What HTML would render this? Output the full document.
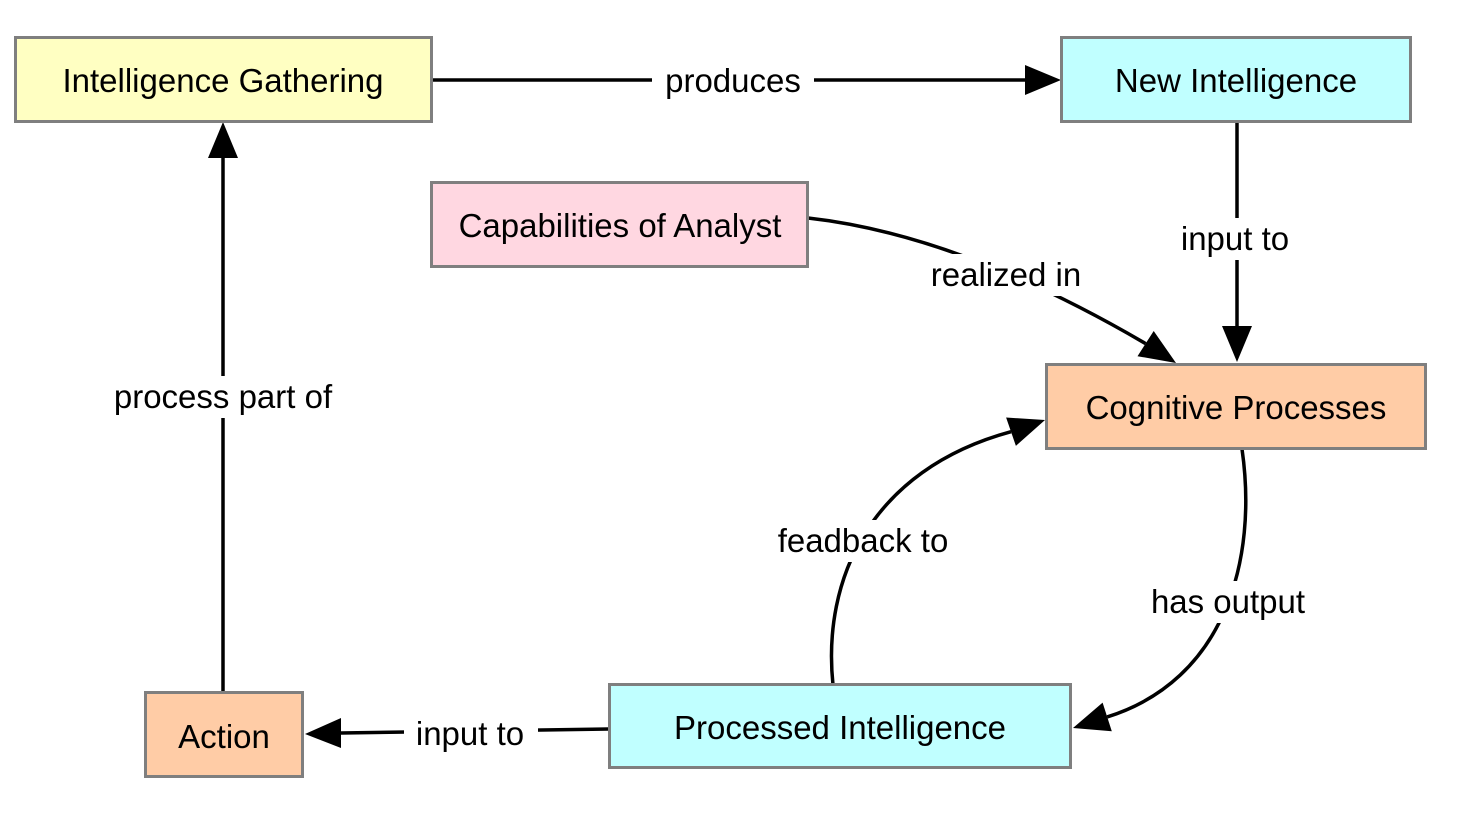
<!DOCTYPE html>
<html><head><meta charset="utf-8"><style>
html,body{margin:0;padding:0;background:#fff;}
text{font-family:"Liberation Sans",Arial,sans-serif;font-size:33px;fill:#000;}
</style></head><body>
<svg width="1462" height="820" viewBox="0 0 1462 820" xmlns="http://www.w3.org/2000/svg">
<g stroke="#000" stroke-width="3.5" fill="none">
<line x1="432" y1="80" x2="1026" y2="80"/>
<line x1="1237" y1="122" x2="1237" y2="327"/>
<path d="M808,218 Q960,235 1145.6,343.6"/>
<line x1="223" y1="692" x2="223" y2="158"/>
<line x1="609" y1="729" x2="341" y2="733"/>
<path d="M833,685 C822,580 870,470 1011,431.7"/>
<path d="M1242,449 C1258,560 1225,680 1107.2,716.9"/>
</g>
<g fill="#000">
<polygon points="1061,80 1025,65 1025,95"/>
<polygon points="1237,362 1222,326 1252,326"/>
<polygon points="1176,363 1137.5,356.2 1153.7,331"/>
<polygon points="223,122 208,158 238,158"/>
<polygon points="305,734 341,718 341,748"/>
<polygon points="1045,420 1015.9,445.9 1006.1,417.5"/>
<polygon points="1073,728 1111.8,731.2 1102.6,702.6"/>
</g>
<g fill="#fff">
<rect x="652" y="60" width="162" height="42"/>
<rect x="1168" y="218" width="134" height="42"/>
<rect x="920" y="254" width="172" height="42"/>
<rect x="102" y="376" width="242" height="42"/>
<rect x="404" y="712" width="134" height="42"/>
<rect x="768" y="520" width="190" height="42"/>
<rect x="1138" y="581" width="180" height="42"/>
</g>
<g text-anchor="middle">
<text x="733" y="92">produces</text>
<text x="1235" y="250">input to</text>
<text x="1006" y="286">realized in</text>
<text x="223" y="408">process part of</text>
<text x="470" y="745">input to</text>
<text x="863" y="552">feadback to</text>
<text x="1228" y="613">has output</text>
</g>
<g stroke="#7f7f7f" stroke-width="3">
<rect x="15.5" y="37.5" width="416" height="84" fill="#ffffc2"/>
<rect x="1061.5" y="37.5" width="349" height="84" fill="#c0ffff"/>
<rect x="431.5" y="182.5" width="376" height="84" fill="#ffd7e1"/>
<rect x="1046.5" y="364.5" width="379" height="84" fill="#ffcca6"/>
<rect x="609.5" y="684.5" width="461" height="83" fill="#c0ffff"/>
<rect x="145.5" y="692.5" width="157" height="84" fill="#ffcca6"/>
</g>
<g text-anchor="middle">
<text x="223" y="92">Intelligence Gathering</text>
<text x="1236" y="92">New Intelligence</text>
<text x="620" y="237">Capabilities of Analyst</text>
<text x="1236" y="419">Cognitive Processes</text>
<text x="840" y="739">Processed Intelligence</text>
<text x="224" y="748">Action</text>
</g>
</svg>
</body></html>
